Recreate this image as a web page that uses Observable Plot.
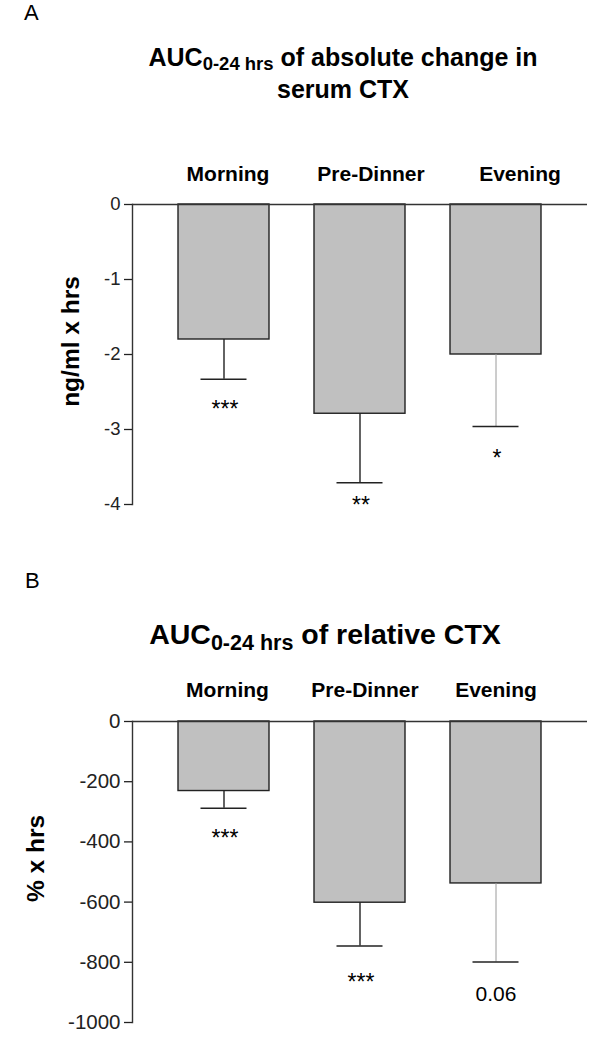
<!DOCTYPE html>
<html><head><meta charset="utf-8">
<script src="https://cdn.jsdelivr.net/npm/d3@7"></script>
<script src="https://cdn.jsdelivr.net/npm/@observablehq/plot@0.6"></script>
<style>
body{margin:0;background:#fff;}
#wrap{position:relative;width:600px;height:1039px;overflow:hidden;font-family:"Liberation Sans",Arial,sans-serif;color:#000;}
.abs{position:absolute;white-space:nowrap;line-height:1;}
.ctr{transform:translateX(-50%);}
.b{font-weight:bold;}
.panel{position:absolute;left:0;}
g[aria-label="category"] text{letter-spacing:0.8px;}
g[aria-label="stars"] text{letter-spacing:2px;}
</style></head><body>
<div id="wrap">
  <div class="abs" style="left:24px;top:2.4px;font-size:22px">A</div>
  <div class="abs ctr b" style="left:343px;top:44.8px;font-size:25px">AUC<span style="font-size:18.5px;position:relative;top:4px">0-24 hrs</span> of absolute change in</div>
  <div class="abs ctr b" style="left:343px;top:76.8px;font-size:25px">serum CTX</div>
  <div class="abs" style="left:25px;top:570.4px;font-size:22px">B</div>
  <div class="abs ctr b" style="left:325px;top:619.9px;font-size:28.5px">AUC<span style="font-size:21.5px;position:relative;top:6px">0-24 hrs</span> of relative CTX</div>
  <div id="pa" class="panel" style="top:0"></div>
  <div id="pb" class="panel" style="top:530px"></div>
</div>
<script>
// ---- data ----
const categories = ["Morning", "Pre-Dinner", "Evening"];
const absMean = [-1.80, -2.79, -2.00];
const absLow = [-2.33, -3.71, -2.96];
const absSig = ["***", "**", "*"];
const absSigY = [-2.65, -3.93, -3.31];
const absTicks = [0, -1, -2, -3, -4];
const absLabel = "ng/ml x hrs";

const relMean = [-231, -602, -538];
const relLow = [-288, -746, -799];
const relSig = ["***", "***", "0.06"];
const relSigY = [-370, -847, -902];
const relTicks = [0, -200, -400, -600, -800, -1000];
const relLabel = "% x hrs";

const tableA = categories.map((c, i) => ({cat: c, mean: absMean[i], low: absLow[i], sig: absSig[i], sigY: absSigY[i]}));
const tableB = categories.map((c, i) => ({cat: c, mean: relMean[i], low: relLow[i], sig: relSig[i], sigY: relSigY[i]}));

const FONT = "'Liberation Sans', Arial, sans-serif";
const DARK = "#222";

function panel(table, cfg) {
  return Plot.plot({
    width: 600, height: cfg.height,
    marginTop: cfg.mt, marginBottom: cfg.mb, marginLeft: 132, marginRight: 13,
    x: {domain: categories, padding: 1/3, axis: null},
    y: {domain: cfg.domain, axis: null},
    style: {fontFamily: FONT, color: DARK, background: "transparent", overflow: "visible"},
    marks: [
      Plot.barY(table, {x: "cat", y: "mean", fill: "#c0c0c0", stroke: DARK, strokeWidth: 1.4}),
      Plot.ruleX(table, {filter: (d, i) => i !== 2, x: "cat", y1: "mean", y2: "low", stroke: DARK, strokeWidth: 1.4}),
      Plot.ruleX(table, {filter: (d, i) => i === 2, x: "cat", y1: "mean", y2: "low", stroke: "#9a9a9a", strokeWidth: 1}),
      Plot.tickY(table, {x: "cat", y: "low", stroke: DARK, strokeWidth: 1.4, insetLeft: 22.5, insetRight: 22.5}),
      Plot.ruleY([0], {stroke: "#333", strokeWidth: 1.4}),
      Plot.frame({anchor: "left", stroke: "#333", strokeWidth: 1.4}),
      Plot.axisY({ticks: cfg.ticks, tickSize: 8, tickPadding: 4, tickFormat: d => String(d), fontSize: cfg.tickFont, label: null, strokeWidth: 1.3}),
      ...categories.map((c, i) => Plot.text([c], {x: d => d, frameAnchor: "top", dy: cfg.catDy, dx: cfg.catShift[i], lineAnchor: "bottom", fontSize: 21, fontWeight: "bold", fill: "#000", ariaLabel: "category"})),
      Plot.text(table, {filter: d => d.sig.includes("*"), x: "cat", y: "sigY", text: "sig", fontSize: 23, lineAnchor: "middle", dy: 6, dx: 1, fill: "#000", ariaLabel: "stars"}),
      Plot.text(table, {filter: d => !d.sig.includes("*"), x: "cat", y: "sigY", text: "sig", fontSize: 21, lineAnchor: "middle", dy: 1, fill: "#000"}),
      Plot.text([cfg.label], {frameAnchor: "left", textAnchor: "middle", rotate: -90, dx: cfg.labDx, dy: cfg.labDy, fontSize: 24.5, fontWeight: "bold", lineAnchor: "middle", fill: "#000"})
    ]
  });
}

document.getElementById("pa").append(panel(tableA, {
  height: 530, mt: 204, mb: 26, domain: [-4, 0], ticks: absTicks, tickFont: 18.5,
  catDy: -24, catShift: [4, 11, 24], label: absLabel, labDx: -61, labDy: -13
}));
document.getElementById("pb").append(panel(tableB, {
  height: 509, mt: 191, mb: 17, domain: [-1000, 0], ticks: relTicks, tickFont: 20.5,
  catDy: -25, catShift: [3.5, 5, 0], label: relLabel, labDx: -96, labDy: -13.5
}));
</script>
</body></html>
